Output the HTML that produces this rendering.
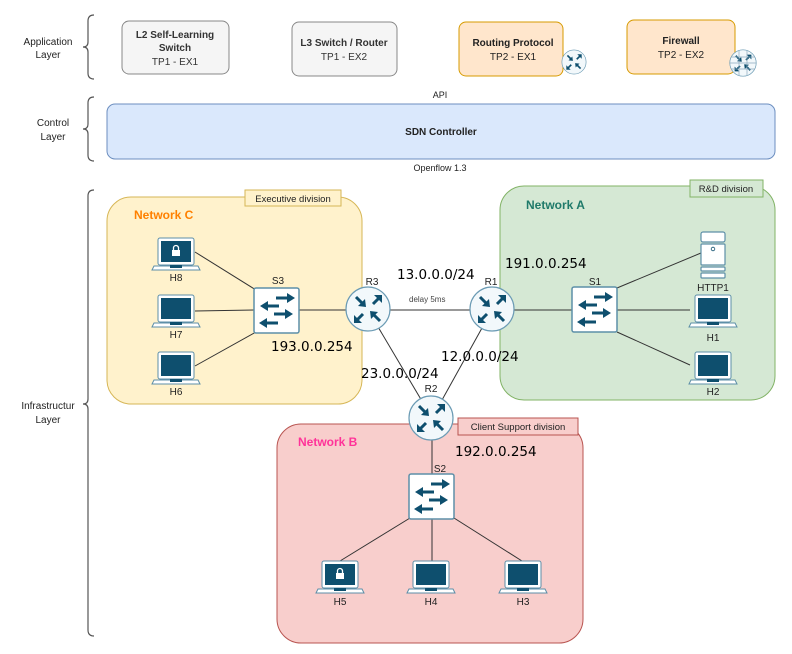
<!DOCTYPE html>
<html><head><meta charset="utf-8"><style>
html,body{margin:0;padding:0;background:#fff}
svg{display:block}
text{font-family:"Liberation Sans",sans-serif}
.ip{font-family:"DejaVu Sans",sans-serif;font-size:13.5px;fill:#000}
.lb{font-size:10px;fill:#222;text-anchor:middle}
</style></head><body>
<svg width="792" height="654" viewBox="0 0 792 654" xmlns="http://www.w3.org/2000/svg">
<defs>
<g id="lap">
  <rect x="0" y="0" width="36" height="27" rx="2" fill="#fff" stroke="#5d8fa8" stroke-width="1"/>
  <rect x="3" y="3" width="30" height="21" fill="#0e4f6e"/>
  <path d="M-4 28 L40 28 L42 32 L-6 32 Z" fill="#fff" stroke="#5d8fa8" stroke-width="1"/>
  <rect x="12" y="27" width="12" height="3" fill="#0e4f6e"/>
</g>
<g id="lock"><rect x="-4" y="-2" width="8" height="6" fill="#fff"/><path d="M-2.5 -2 V-4 A2.5 2.5 0 0 1 2.5 -4 V-2" fill="none" stroke="#fff" stroke-width="1.3"/></g>
<g id="sw">
  <rect x="0" y="0" width="45" height="45" rx="2" fill="#fff" stroke="#5d8fa8" stroke-width="1.5"/>
  <g stroke="#0e4f6e" stroke-width="3" fill="#0e4f6e">
    <line x1="22" y1="10" x2="34" y2="10"/><path d="M33 5 L41 10 L33 15Z" stroke="none"/>
    <line x1="13" y1="18" x2="25" y2="18"/><path d="M14 13 L6 18 L14 23Z" stroke="none"/>
    <line x1="20" y1="26" x2="32" y2="26"/><path d="M31 21 L39 26 L31 31Z" stroke="none"/>
    <line x1="12" y1="35" x2="24" y2="35"/><path d="M13 30 L5 35 L13 40Z" stroke="none"/>
  </g>
</g>
<g id="rt">
  <circle r="22" fill="#f2f8fb" stroke="#6b9bb4" stroke-width="1.2"/>
  <g stroke="#0e4f6e" stroke-width="3" fill="#0e4f6e">
    <line x1="-12" y1="-12" x2="-5" y2="-5"/><path d="M-2 -2 L-3 -10 L-10 -3Z" stroke="none"/>
    <line x1="12" y1="-12" x2="5" y2="-5"/><path d="M12 -12 L4 -12 L12 -4Z" stroke="none" transform="translate(2,-2)"/>
    <line x1="-12" y1="12" x2="-5" y2="5"/><path d="M-14 14 L-14 6 L-6 14Z" stroke="none"/>
    <line x1="12" y1="12" x2="5" y2="5"/><path d="M2 2 L10 3 L3 10Z" stroke="none"/>
  </g>
</g>
</defs>

<!-- braces -->
<g fill="none" stroke="#555" stroke-width="1.2">
<path d="M94 15 Q88 15 88 21 V42 Q88 47 83 47 Q88 47 88 52 V73 Q88 79 94 79"/>
<path d="M94 97 Q88 97 88 103 V124 Q88 129 83 129 Q88 129 88 134 V155 Q88 161 94 161"/>
<path d="M94 190 Q88 190 88 196 V399 Q88 404 83 404 Q88 404 88 409 V630 Q88 636 94 636"/>
</g>
<g font-size="10" fill="#222" text-anchor="middle">
<text x="48" y="45">Application</text><text x="48" y="58">Layer</text>
<text x="53" y="126">Control</text><text x="53" y="140">Layer</text>
<text x="48" y="409">Infrastructur</text><text x="48" y="423">Layer</text>
</g>

<!-- application boxes -->
<rect x="122" y="21" width="107" height="53" rx="7" fill="#f5f5f5" stroke="#888"/>
<text x="175" y="38" font-size="10" font-weight="bold" fill="#333" text-anchor="middle">L2 Self-Learning</text>
<text x="175" y="51" font-size="10" font-weight="bold" fill="#333" text-anchor="middle">Switch</text>
<text x="175" y="65" font-size="10" fill="#333" text-anchor="middle">TP1 - EX1</text>
<rect x="292" y="22" width="105" height="54" rx="7" fill="#f5f5f5" stroke="#888"/>
<text x="344" y="46" font-size="10" font-weight="bold" fill="#333" text-anchor="middle">L3 Switch / Router</text>
<text x="344" y="60" font-size="10" fill="#333" text-anchor="middle">TP1 - EX2</text>
<rect x="459" y="22" width="104" height="54" rx="7" fill="#ffe6cc" stroke="#d79b00"/>
<text x="513" y="46" font-size="10" font-weight="bold" fill="#222" text-anchor="middle">Routing Protocol</text>
<text x="513" y="60" font-size="10" fill="#222" text-anchor="middle">TP2 - EX1</text>
<rect x="627" y="20" width="108" height="54" rx="7" fill="#ffe6cc" stroke="#d79b00"/>
<text x="681" y="44" font-size="10" font-weight="bold" fill="#222" text-anchor="middle">Firewall</text>
<text x="681" y="58" font-size="10" fill="#222" text-anchor="middle">TP2 - EX2</text>
<use href="#rt" transform="translate(574,62) scale(0.55)"/>
<g transform="translate(743,63)">
  <use href="#rt" transform="scale(0.6)"/>
  <g stroke="#8aa9bd" stroke-width="0.7"><line x1="-12" y1="-6" x2="12" y2="-6"/><line x1="-13" y1="0" x2="13" y2="0"/><line x1="-12" y1="6" x2="12" y2="6"/><line x1="-4" y1="-12" x2="-4" y2="12"/><line x1="4" y1="-12" x2="4" y2="12"/></g>
</g>

<text x="440" y="98" font-size="9" fill="#222" text-anchor="middle">API</text>
<rect x="107" y="104" width="668" height="55" rx="8" fill="#dae8fc" stroke="#6c8ebf"/>
<text x="441" y="135" font-size="10" font-weight="bold" fill="#222" text-anchor="middle">SDN Controller</text>
<text x="440" y="171" font-size="9" fill="#222" text-anchor="middle">Openflow 1.3</text>

<!-- networks -->
<rect x="107" y="197" width="255" height="207" rx="24" fill="#fff2cc" stroke="#d6b656"/>
<rect x="245" y="190" width="96" height="16" fill="#fff2cc" stroke="#d6b656"/>
<text x="293" y="202" font-size="9.5" fill="#222" text-anchor="middle">Executive division</text>
<text x="134" y="219" font-size="12" font-weight="bold" fill="#ff8000">Network C</text>

<rect x="500" y="186" width="275" height="214" rx="24" fill="#d5e8d4" stroke="#82b366"/>
<rect x="690" y="180" width="73" height="17" fill="#d5e8d4" stroke="#82b366"/>
<text x="726" y="192" font-size="9.5" fill="#222" text-anchor="middle">R&amp;D division</text>
<text x="526" y="209" font-size="12" font-weight="bold" fill="#1f7a6a">Network A</text>

<rect x="277" y="424" width="306" height="219" rx="24" fill="#f8cecc" stroke="#b85450"/>
<rect x="458" y="418" width="120" height="17" fill="#f8cecc" stroke="#b85450"/>
<text x="518" y="430" font-size="9.5" fill="#222" text-anchor="middle">Client Support division</text>
<text x="298" y="446" font-size="12" font-weight="bold" fill="#ff3399">Network B</text>

<!-- links -->
<g stroke="#333" stroke-width="1">
<line x1="195" y1="252" x2="256" y2="290"/>
<line x1="195" y1="311" x2="254" y2="310"/>
<line x1="195" y1="366" x2="256" y2="332"/>
<line x1="299" y1="310" x2="368" y2="310"/>
<line x1="368" y1="310" x2="492" y2="310"/>
<line x1="492" y1="310" x2="572" y2="310"/>
<line x1="368" y1="310" x2="432" y2="418"/>
<line x1="492" y1="310" x2="432" y2="418"/>
<line x1="432" y1="418" x2="432" y2="474"/>
<line x1="617" y1="288" x2="701" y2="253"/>
<line x1="617" y1="310" x2="690" y2="310"/>
<line x1="617" y1="332" x2="690" y2="365"/>
<line x1="410" y1="518" x2="340" y2="561"/>
<line x1="432" y1="519" x2="432" y2="561"/>
<line x1="454" y1="518" x2="522" y2="561"/>
</g>

<!-- hosts C -->
<use href="#lap" transform="translate(158,238)"/><use href="#lock" transform="translate(176,252)"/>
<text class="lb" x="176" y="281">H8</text>
<use href="#lap" transform="translate(158,295)"/><text class="lb" x="176" y="338">H7</text>
<use href="#lap" transform="translate(158,352)"/><text class="lb" x="176" y="395">H6</text>
<use href="#sw" transform="translate(254,288)"/><text class="lb" x="278" y="284" font-size="10.5">S3</text>

<use href="#rt" transform="translate(368,309)"/><text class="lb" x="372" y="285">R3</text>
<use href="#rt" transform="translate(492,309)"/><text class="lb" x="491" y="285">R1</text>
<use href="#rt" transform="translate(431,418)"/><text class="lb" x="431" y="392">R2</text>

<!-- network A -->
<use href="#sw" transform="translate(572,287)"/><text class="lb" x="595" y="285">S1</text>
<g fill="#fff" stroke="#5d8fa8" stroke-width="1.2">
<rect x="701" y="232" width="24" height="10" rx="2"/>
<rect x="701" y="244" width="24" height="21" rx="1"/>
<rect x="701" y="267" width="24" height="4" rx="1"/>
<rect x="701" y="273" width="24" height="5" rx="1"/>
</g>
<circle cx="713" cy="249" r="1.8" fill="none" stroke="#0e4f6e" stroke-width="0.8"/>
<text class="lb" x="713" y="291">HTTP1</text>
<use href="#lap" transform="translate(695,295)"/><text class="lb" x="713" y="341">H1</text>
<use href="#lap" transform="translate(695,352)"/><text class="lb" x="713" y="395">H2</text>

<!-- network B -->
<use href="#sw" transform="translate(409,474)"/><text class="lb" x="440" y="472">S2</text>
<use href="#lap" transform="translate(322,561)"/><use href="#lock" transform="translate(340,575)"/>
<text class="lb" x="340" y="605">H5</text>
<use href="#lap" transform="translate(413,561)"/><text class="lb" x="431" y="605">H4</text>
<use href="#lap" transform="translate(505,561)"/><text class="lb" x="523" y="605">H3</text>

<!-- labels -->
<text class="ip" x="397" y="279">13.0.0.0/24</text>
<text x="409" y="302" font-size="8" fill="#444">delay 5ms</text>
<text class="ip" x="505" y="268">191.0.0.254</text>
<text class="ip" x="271" y="351">193.0.0.254</text>
<text class="ip" x="441" y="361">12.0.0.0/24</text>
<text class="ip" x="361" y="378">23.0.0.0/24</text>
<text class="ip" x="455" y="456">192.0.0.254</text>
</svg>
</body></html>
